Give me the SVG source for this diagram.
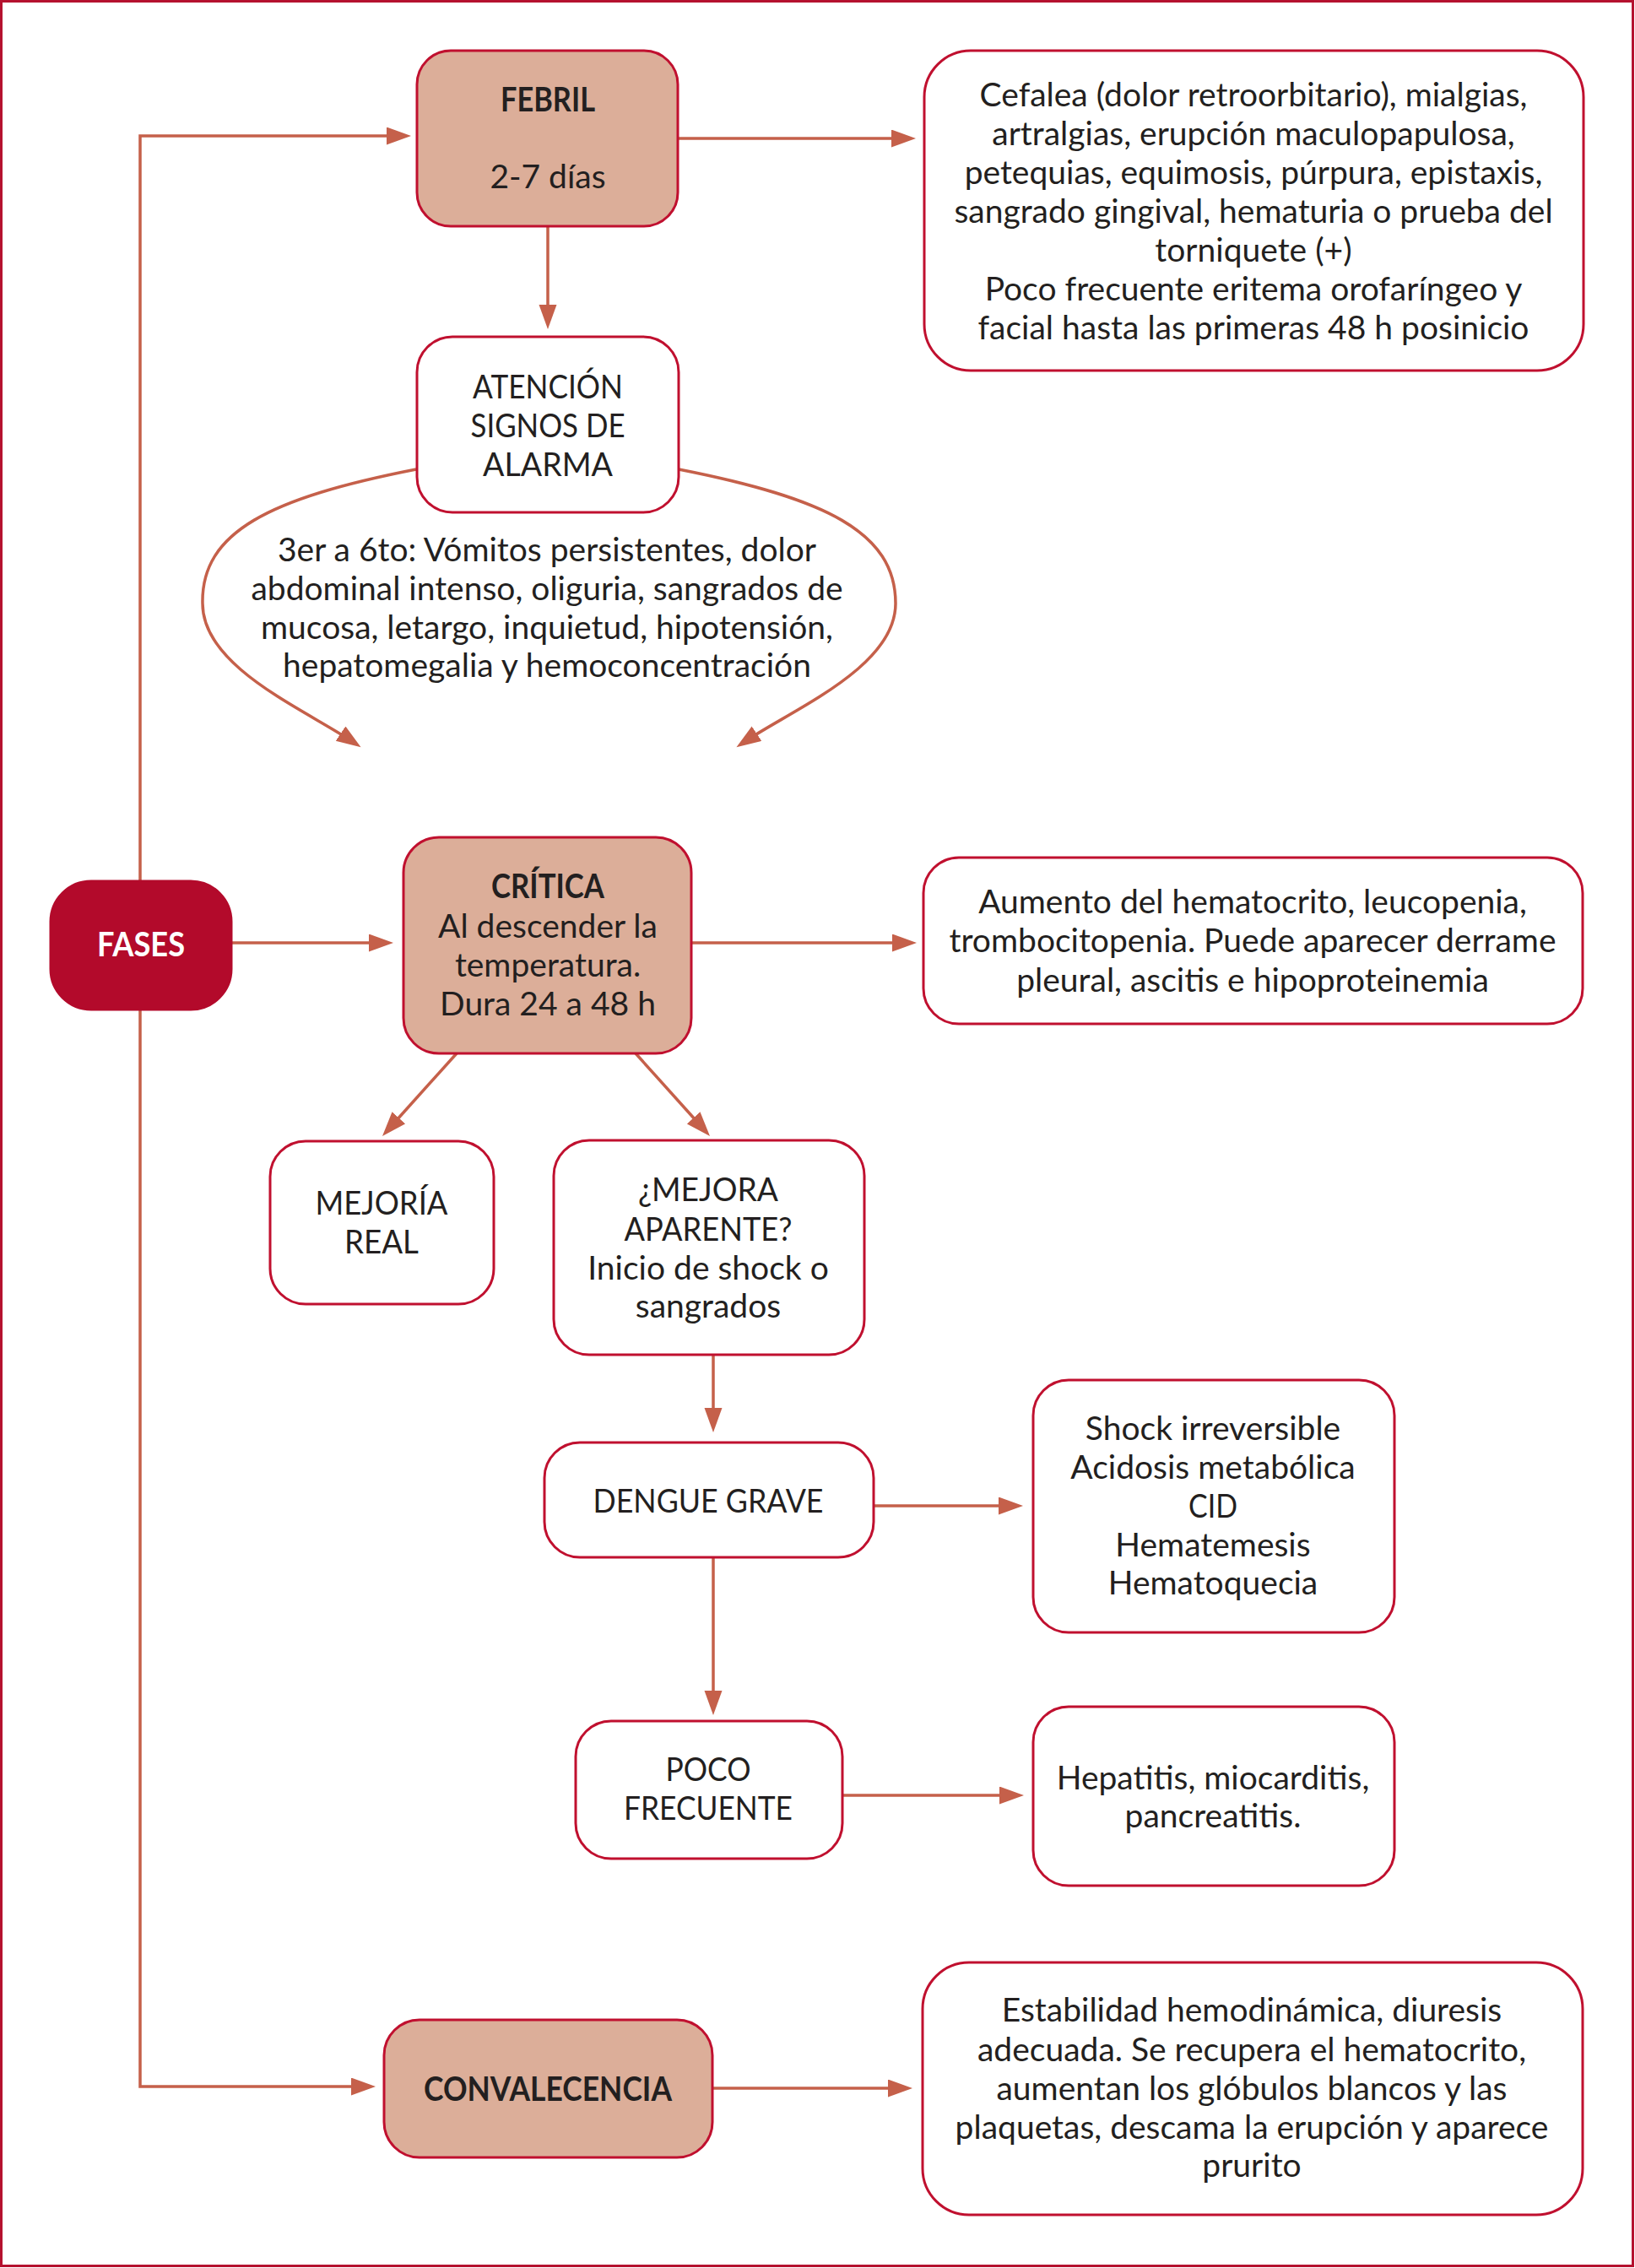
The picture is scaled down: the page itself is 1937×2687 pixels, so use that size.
<svg xmlns="http://www.w3.org/2000/svg" width="1937" height="2687" viewBox="0 0 1937 2687">
<style>
.bx{fill:#ffffff;stroke:#c0102f;stroke-width:3}
.ph{fill:#dcae99;stroke:#c0102f;stroke-width:3}
.fs{fill:#b30a2b;stroke:#b30a2b;stroke-width:3}
.t{font-family:Lato,'Liberation Sans',sans-serif;font-size:39px;fill:#231f20;text-anchor:middle}
.b{font-weight:bold;font-size:40px}
.w{fill:#ffffff}
.c{fill:none;stroke:#c5604a;stroke-width:3.5}
</style>
<defs>
<marker id="ah" markerUnits="userSpaceOnUse" markerWidth="30" markerHeight="22" refX="17" refY="10.5" orient="auto">
<path d="M0,0 L29,10.5 L0,21 Z" fill="#c5604a"/>
</marker>
</defs>
<rect x="1.5" y="1.5" width="1933" height="2683" fill="#ffffff" stroke="#b5122f" stroke-width="3"/>
<g id="connectors">
<path class="c" d="M166,1044 V161 H475" marker-end="url(#ah)"/>
<path class="c" d="M166,1196 V2472 H433" marker-end="url(#ah)"/>
<path class="c" d="M274,1117 H454" marker-end="url(#ah)"/>
<path class="c" d="M804,164 H1073" marker-end="url(#ah)"/>
<path class="c" d="M649,268 V378" marker-end="url(#ah)"/>
<path class="c" d="M493,556 C320,590 238,630 240,715 C240,790 360,840 417.6,878.6" marker-end="url(#ah)"/>
<path class="c" d="M804,556 C977,590 1061,630 1061,715 C1061,790 940,840 882.4,878.6" marker-end="url(#ah)"/>
<path class="c" d="M819,1117 H1074" marker-end="url(#ah)"/>
<path class="c" d="M541,1248 L461,1337" marker-end="url(#ah)"/>
<path class="c" d="M753,1248 L833,1337" marker-end="url(#ah)"/>
<path class="c" d="M845,1605 V1685" marker-end="url(#ah)"/>
<path class="c" d="M1035,1784 H1200" marker-end="url(#ah)"/>
<path class="c" d="M845,1845 V2020" marker-end="url(#ah)"/>
<path class="c" d="M998,2127 H1201" marker-end="url(#ah)"/>
<path class="c" d="M844,2474 H1069" marker-end="url(#ah)"/>
</g>
<g id="fases">
<rect class="fs" x="60" y="1044" width="214" height="152" rx="48"/>
<text class="t b w" x="167" y="1133" textLength="104" lengthAdjust="spacingAndGlyphs">FASES</text>
</g>
<g id="febril">
<rect class="ph" x="494" y="60" width="309" height="208" rx="40"/>
<text class="t b" x="649" y="132" textLength="112" lengthAdjust="spacingAndGlyphs">FEBRIL</text>
<text class="t" x="649" y="223">2-7 días</text>
</g>
<g id="febril-signos">
<rect class="bx" x="1095" y="60" width="781" height="379" rx="55"/>
<text class="t" x="1485" y="126">Cefalea (dolor retroorbitario), mialgias,</text>
<text class="t" x="1485" y="172">artralgias, erupción maculopapulosa,</text>
<text class="t" x="1485" y="218">petequias, equimosis, púrpura, epistaxis,</text>
<text class="t" x="1485" y="264">sangrado gingival, hematuria o prueba del</text>
<text class="t" x="1485" y="310">torniquete (+)</text>
<text class="t" x="1485" y="356">Poco frecuente eritema orofaríngeo y</text>
<text class="t" x="1485" y="402">facial hasta las primeras 48 h posinicio</text>
</g>
<g id="atencion">
<rect class="bx" x="494" y="399" width="310" height="208" rx="42"/>
<text class="t" x="649" y="472" textLength="178" lengthAdjust="spacingAndGlyphs">ATENCIÓN</text>
<text class="t" x="649" y="518" textLength="183" lengthAdjust="spacingAndGlyphs">SIGNOS DE</text>
<text class="t" x="649" y="564" textLength="154" lengthAdjust="spacingAndGlyphs">ALARMA</text>
</g>
<g id="alarma-texto">
<text class="t" x="648" y="665">3er a 6to: Vómitos persistentes, dolor</text>
<text class="t" x="648" y="711">abdominal intenso, oliguria, sangrados de</text>
<text class="t" x="648" y="757">mucosa, letargo, inquietud, hipotensión,</text>
<text class="t" x="648" y="802">hepatomegalia y hemoconcentración</text>
</g>
<g id="critica">
<rect class="ph" x="478" y="992" width="341" height="256" rx="42"/>
<text class="t b" x="649" y="1064" textLength="134" lengthAdjust="spacingAndGlyphs">CRÍTICA</text>
<text class="t" x="649" y="1111">Al descender la</text>
<text class="t" x="649" y="1157">temperatura.</text>
<text class="t" x="649" y="1203">Dura 24 a 48 h</text>
</g>
<g id="critica-signos">
<rect class="bx" x="1094" y="1016" width="781" height="197" rx="42"/>
<text class="t" x="1484" y="1082">Aumento del hematocrito, leucopenia,</text>
<text class="t" x="1484" y="1128">trombocitopenia. Puede aparecer derrame</text>
<text class="t" x="1484" y="1175">pleural, ascitis e hipoproteinemia</text>
</g>
<g id="mejoria-real">
<rect class="bx" x="320" y="1352" width="265" height="193" rx="42"/>
<text class="t" x="452" y="1439" textLength="157" lengthAdjust="spacingAndGlyphs">MEJORÍA</text>
<text class="t" x="452" y="1485" textLength="88" lengthAdjust="spacingAndGlyphs">REAL</text>
</g>
<g id="mejora-aparente">
<rect class="bx" x="656" y="1351" width="368" height="254" rx="42"/>
<text class="t" x="839" y="1423" textLength="166" lengthAdjust="spacingAndGlyphs">¿MEJORA</text>
<text class="t" x="839" y="1470" textLength="199" lengthAdjust="spacingAndGlyphs">APARENTE?</text>
<text class="t" x="839" y="1516">Inicio de shock o</text>
<text class="t" x="839" y="1561">sangrados</text>
</g>
<g id="dengue-grave">
<rect class="bx" x="645" y="1709" width="390" height="136" rx="42"/>
<text class="t" x="839" y="1792" textLength="273" lengthAdjust="spacingAndGlyphs">DENGUE GRAVE</text>
</g>
<g id="grave-signos">
<rect class="bx" x="1224" y="1635" width="428" height="299" rx="42"/>
<text class="t" x="1437" y="1706">Shock irreversible</text>
<text class="t" x="1437" y="1752">Acidosis metabólica</text>
<text class="t" x="1437" y="1798" textLength="58" lengthAdjust="spacingAndGlyphs">CID</text>
<text class="t" x="1437" y="1844">Hematemesis</text>
<text class="t" x="1437" y="1889">Hematoquecia</text>
</g>
<g id="poco-frecuente">
<rect class="bx" x="682" y="2039" width="316" height="163" rx="42"/>
<text class="t" x="839" y="2110" textLength="101" lengthAdjust="spacingAndGlyphs">POCO</text>
<text class="t" x="839" y="2156" textLength="200" lengthAdjust="spacingAndGlyphs">FRECUENTE</text>
</g>
<g id="poco-signos">
<rect class="bx" x="1224" y="2022" width="428" height="212" rx="42"/>
<text class="t" x="1437" y="2120">Hepatitis, miocarditis,</text>
<text class="t" x="1437" y="2165">pancreatitis.</text>
</g>
<g id="convalecencia">
<rect class="ph" x="455" y="2393" width="389" height="163" rx="42"/>
<text class="t b" x="649" y="2489" textLength="294" lengthAdjust="spacingAndGlyphs">CONVALECENCIA</text>
</g>
<g id="convalecencia-signos">
<rect class="bx" x="1093" y="2325" width="782" height="299" rx="55"/>
<text class="t" x="1483" y="2395">Estabilidad hemodinámica, diuresis</text>
<text class="t" x="1483" y="2442">adecuada. Se recupera el hematocrito,</text>
<text class="t" x="1483" y="2488">aumentan los glóbulos blancos y las</text>
<text class="t" x="1483" y="2534">plaquetas, descama la erupción y aparece</text>
<text class="t" x="1483" y="2579">prurito</text>
</g>
</svg>
